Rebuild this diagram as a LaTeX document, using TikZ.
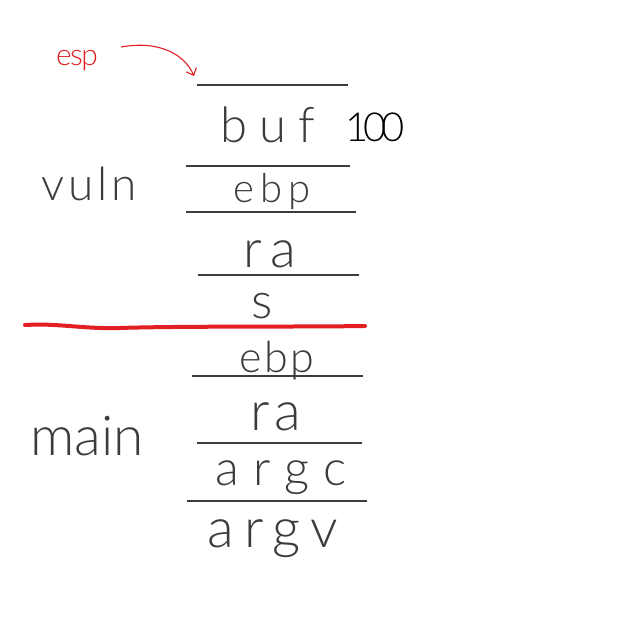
\documentclass[tikz,border=0pt]{standalone}
\usepackage{fontspec}
\newfontfamily\hand{Lato Light}
\usetikzlibrary{arrows.meta}
\definecolor{ink}{RGB}{60,60,60}
\definecolor{redink}{RGB}{226,32,36}
\tikzset{
  hw/.style={inner sep=0pt, anchor=base, text=ink, font=\hand},
  sep/.style={draw=ink, line width=1.3pt},
}
\newcommand{\hsz}[2]{\fontsize{#1}{#1}\selectfont\addfontfeature{LetterSpace=#2}}
\begin{document}
\begin{tikzpicture}[x=1pt,y=-1pt]
\useasboundingbox[fill=white] (0,0) rectangle (633,621);
% separator lines
\draw[sep] (197,85) -- (348,85);
\draw[sep] (186,166) -- (350,166);
\draw[sep] (186,212) -- (356,212);
\draw[sep] (198,275) -- (359,275);
\draw[sep] (192,376) -- (363,376);
\draw[sep] (197,443) -- (362,443);
\draw[sep] (187,501) -- (367,501);
% red frame boundary
\draw[redink, line width=4pt, line cap=round] (25,325) .. controls (60,323) and (80,329) .. (120,328) .. controls (180,326) and (300,327) .. (365,326);
% labels
\node[hw] (buf) at (268,142) {\hsz{49}{25}buf};
\node[hw, text=black] (size) at (375,141) {\hsz{40}{-12}100};
\node[hw] (vuln) at (89,200) {\hsz{46}{8}vuln};
\node[hw] (ebpa) at (272,202) {\hsz{40}{15}ebp};
\node[hw] (raa) at (270,267) {\hsz{53}{17}ra};
\node[hw] (s) at (262,318) {\hsz{50}{0}s};
\node[hw] (ebpb) at (277,372) {\hsz{43}{5}ebp};
\node[hw] (rab) at (276,430) {\hsz{55}{10}ra};
\node[hw] (argc) at (281,485) {\hsz{49}{29}argc};
\node[hw] (argv) at (273,547) {\hsz{55}{18}argv};
\node[hw] (main) at (87,455) {\hsz{55}{0}main};
\node[hw, text=redink] (esp) at (77,65) {\hsz{30}{-5}esp};
\coordinate (top) at (194,76);
\draw[redink, line width=1.1pt, -{Straight Barb[length=6pt,width=11pt]}] (121,47) .. controls (160,40) and (185,55) .. (top);
\end{tikzpicture}
\end{document}
